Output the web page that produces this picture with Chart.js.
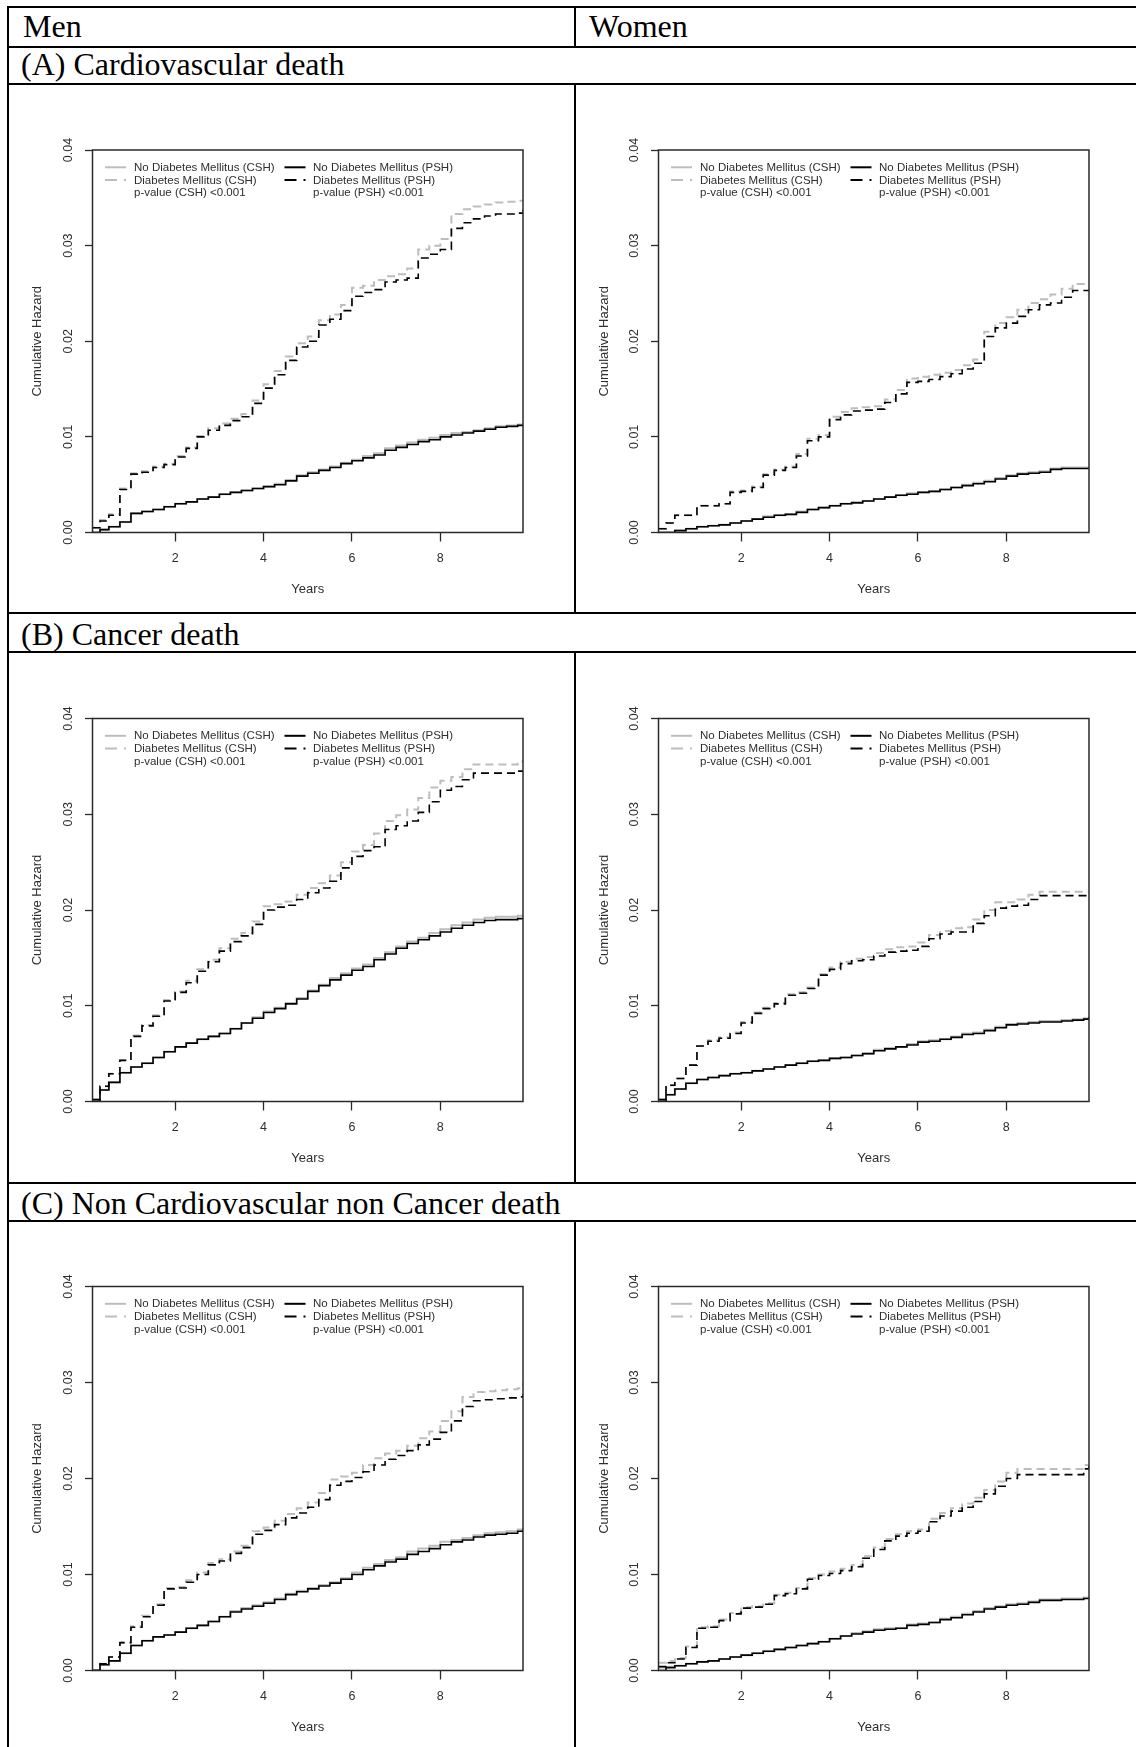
<!DOCTYPE html>
<html><head><meta charset="utf-8">
<script src="https://cdn.jsdelivr.net/npm/chart.js@4.4.1/dist/chart.umd.min.js"></script>
<style>
html,body{margin:0;padding:0;background:#fff;}
body{width:1136px;height:1747px;position:relative;overflow:hidden;font-family:'Liberation Serif','Times New Roman',serif;}
.h{position:absolute;height:2px;background:#000;}
.v{position:absolute;width:2px;background:#000;}
.t{position:absolute;font-size:32px;line-height:32px;height:32px;color:#000;white-space:nowrap;}
canvas.c{position:absolute;}
</style></head><body>
<div class="h" style="left:7px;top:6px;width:1129px"></div>
<div class="h" style="left:7px;top:46px;width:1129px"></div>
<div class="h" style="left:7px;top:83px;width:1129px"></div>
<div class="h" style="left:7px;top:612px;width:1129px"></div>
<div class="h" style="left:7px;top:651px;width:1129px"></div>
<div class="h" style="left:7px;top:1182px;width:1129px"></div>
<div class="h" style="left:7px;top:1220px;width:1129px"></div>
<div class="v" style="left:7px;top:6px;height:1741px"></div>
<div class="v" style="left:574px;top:6px;height:41px"></div>
<div class="v" style="left:574px;top:83px;height:530px"></div>
<div class="v" style="left:574px;top:651px;height:532px"></div>
<div class="v" style="left:574px;top:1220px;height:527px"></div>
<div class="t" id="tMen" style="left:23px;top:10px"></div>
<div class="t" id="tWomen" style="left:589px;top:10px"></div>
<div class="t" id="tA" style="left:21px;top:48px"></div>
<div class="t" id="tB" style="left:21px;top:618px"></div>
<div class="t" id="tC" style="left:21px;top:1187px"></div>
<canvas class="c" id="cMA" width="560" height="525" style="left:9px;top:84px"></canvas>
<canvas class="c" id="cWA" width="560" height="525" style="left:576px;top:84px"></canvas>
<canvas class="c" id="cMB" width="560" height="525" style="left:9px;top:653px"></canvas>
<canvas class="c" id="cWB" width="560" height="525" style="left:576px;top:653px"></canvas>
<canvas class="c" id="cMC" width="560" height="525" style="left:9px;top:1222px"></canvas>
<canvas class="c" id="cWC" width="560" height="525" style="left:576px;top:1222px"></canvas>
<script>
const colTitles = ['Men','Women'];
const rowTitles = ['(A) Cardiovascular death','(B) Cancer death','(C) Non Cardiovascular non Cancer death'];
const seriesNames = ['No Diabetes Mellitus (CSH)','Diabetes Mellitus (CSH)','No Diabetes Mellitus (PSH)','Diabetes Mellitus (PSH)'];
const pLabels = ['p-value (CSH) <0.001','p-value (PSH) <0.001'];
const xTitle = 'Years';
const yTitle = 'Cumulative Hazard';
const xTicks = [2,4,6,8];
const yTicks = [0,0.01,0.02,0.03,0.04];
const yTickLabels = ['0.00','0.01','0.02','0.03','0.04'];
const X_MIN = 0.13, X_MAX = 9.87;

const years = [0.13,0.3,0.5,0.75,1,1.25,1.5,1.75,2,2.25,2.5,2.75,3,3.25,3.5,3.75,4,4.25,4.5,4.75,5,5.25,5.5,5.75,6,6.25,6.5,6.75,7,7.25,7.5,7.75,8,8.25,8.5,8.75,9,9.25,9.5,9.75,9.87];

const menA_dmCSH = [0.0005,0.0013,0.0019,0.0046,0.0062,0.0064,0.0069,0.0072,0.0080,0.0089,0.0101,0.0109,0.0114,0.0119,0.0124,0.0138,0.0155,0.0169,0.0184,0.0198,0.0205,0.0222,0.0228,0.0238,0.0256,0.0258,0.0264,0.0268,0.0270,0.0276,0.0296,0.0300,0.0307,0.0333,0.0338,0.0341,0.0343,0.0345,0.0346,0.0347,0.0348];
const menA_dmPSH = [0.0005,0.0012,0.0018,0.0045,0.0061,0.0063,0.0068,0.0071,0.0079,0.0088,0.0100,0.0107,0.0112,0.0117,0.0121,0.0135,0.0151,0.0165,0.0180,0.0194,0.0200,0.0217,0.0223,0.0232,0.0247,0.0251,0.0254,0.0262,0.0264,0.0266,0.0287,0.0291,0.0296,0.0318,0.0324,0.0328,0.0331,0.0333,0.0333,0.0334,0.0337];
const menA_noCSH = [0.0000,0.0003,0.0006,0.0011,0.0020,0.0022,0.0024,0.0027,0.0030,0.0032,0.0035,0.0037,0.0040,0.0042,0.0044,0.0046,0.0048,0.0051,0.0055,0.0060,0.0063,0.0066,0.0069,0.0073,0.0076,0.0080,0.0083,0.0088,0.0091,0.0094,0.0097,0.0099,0.0102,0.0104,0.0105,0.0107,0.0109,0.0111,0.0112,0.0113,0.0113];
const menA_noPSH = [0.0000,0.0003,0.0006,0.0011,0.0020,0.0022,0.0024,0.0027,0.0030,0.0032,0.0035,0.0037,0.0040,0.0042,0.0044,0.0046,0.0048,0.0050,0.0054,0.0059,0.0062,0.0065,0.0068,0.0072,0.0075,0.0078,0.0081,0.0086,0.0089,0.0092,0.0095,0.0097,0.0100,0.0102,0.0104,0.0106,0.0108,0.0110,0.0111,0.0112,0.0112];

const womenA_dmCSH = [0.0004,0.0010,0.0018,0.0018,0.0028,0.0028,0.0030,0.0043,0.0044,0.0048,0.0061,0.0066,0.0069,0.0082,0.0098,0.0102,0.0121,0.0126,0.0130,0.0131,0.0132,0.0139,0.0149,0.0161,0.0163,0.0165,0.0167,0.0170,0.0175,0.0181,0.0210,0.0219,0.0225,0.0233,0.0240,0.0244,0.0249,0.0255,0.0260,0.0260,0.0261];
const womenA_dmPSH = [0.0004,0.0010,0.0018,0.0018,0.0028,0.0028,0.0030,0.0042,0.0043,0.0047,0.0060,0.0065,0.0068,0.0080,0.0096,0.0100,0.0118,0.0123,0.0127,0.0128,0.0129,0.0136,0.0145,0.0157,0.0158,0.0160,0.0163,0.0166,0.0171,0.0177,0.0205,0.0214,0.0219,0.0226,0.0233,0.0238,0.0240,0.0246,0.0253,0.0253,0.0254];
const womenA_noCSH = [0.0000,0.0000,0.0002,0.0004,0.0006,0.0007,0.0008,0.0010,0.0012,0.0014,0.0017,0.0018,0.0019,0.0022,0.0024,0.0026,0.0028,0.0030,0.0032,0.0033,0.0035,0.0037,0.0039,0.0041,0.0042,0.0043,0.0045,0.0047,0.0050,0.0052,0.0054,0.0057,0.0060,0.0062,0.0063,0.0064,0.0067,0.0068,0.0068,0.0068,0.0069];
const womenA_noPSH = [0.0000,0.0000,0.0002,0.0004,0.0006,0.0007,0.0008,0.0010,0.0012,0.0014,0.0016,0.0018,0.0019,0.0021,0.0024,0.0026,0.0028,0.0030,0.0031,0.0033,0.0035,0.0037,0.0039,0.0040,0.0042,0.0043,0.0045,0.0047,0.0049,0.0051,0.0053,0.0056,0.0059,0.0061,0.0062,0.0063,0.0066,0.0067,0.0067,0.0067,0.0068];

const menB_dmCSH = [0.0002,0.0016,0.0029,0.0043,0.0069,0.0080,0.0090,0.0106,0.0115,0.0126,0.0138,0.0148,0.0160,0.0170,0.0176,0.0188,0.0204,0.0206,0.0209,0.0216,0.0223,0.0228,0.0236,0.0250,0.0261,0.0268,0.0280,0.0293,0.0299,0.0305,0.0317,0.0328,0.0335,0.0339,0.0347,0.0352,0.0352,0.0352,0.0352,0.0355,0.0357];
const menB_dmPSH = [0.0002,0.0016,0.0029,0.0043,0.0068,0.0079,0.0089,0.0105,0.0114,0.0124,0.0136,0.0146,0.0157,0.0167,0.0173,0.0185,0.0200,0.0203,0.0205,0.0211,0.0218,0.0223,0.0230,0.0244,0.0256,0.0262,0.0266,0.0284,0.0288,0.0293,0.0302,0.0313,0.0325,0.0329,0.0336,0.0343,0.0343,0.0343,0.0343,0.0345,0.0346];
const menB_noCSH = [0.0000,0.0012,0.0020,0.0030,0.0036,0.0040,0.0046,0.0052,0.0057,0.0061,0.0065,0.0068,0.0071,0.0076,0.0082,0.0088,0.0094,0.0098,0.0103,0.0108,0.0116,0.0122,0.0129,0.0134,0.0139,0.0143,0.0150,0.0156,0.0162,0.0167,0.0171,0.0176,0.0180,0.0184,0.0187,0.0190,0.0192,0.0193,0.0193,0.0194,0.0195];
const menB_noPSH = [0.0000,0.0012,0.0020,0.0030,0.0036,0.0040,0.0046,0.0052,0.0057,0.0061,0.0065,0.0068,0.0071,0.0076,0.0082,0.0087,0.0093,0.0097,0.0102,0.0107,0.0115,0.0121,0.0127,0.0132,0.0137,0.0141,0.0148,0.0154,0.0160,0.0165,0.0169,0.0173,0.0177,0.0181,0.0184,0.0187,0.0189,0.0190,0.0190,0.0191,0.0192];

const womenB_dmCSH = [0.0002,0.0017,0.0024,0.0038,0.0058,0.0064,0.0067,0.0072,0.0083,0.0093,0.0098,0.0103,0.0112,0.0114,0.0119,0.0133,0.0140,0.0146,0.0149,0.0151,0.0155,0.0159,0.0161,0.0162,0.0166,0.0174,0.0178,0.0181,0.0182,0.0190,0.0200,0.0208,0.0208,0.0211,0.0216,0.0219,0.0219,0.0219,0.0219,0.0219,0.0219];
const womenB_dmPSH = [0.0002,0.0017,0.0024,0.0038,0.0058,0.0063,0.0066,0.0071,0.0082,0.0092,0.0097,0.0102,0.0111,0.0113,0.0118,0.0132,0.0138,0.0144,0.0147,0.0148,0.0152,0.0156,0.0157,0.0158,0.0162,0.0170,0.0175,0.0177,0.0177,0.0186,0.0194,0.0202,0.0204,0.0205,0.0211,0.0215,0.0215,0.0215,0.0215,0.0215,0.0215];
const womenB_noCSH = [0.0000,0.0007,0.0013,0.0019,0.0023,0.0025,0.0027,0.0029,0.0030,0.0032,0.0034,0.0036,0.0038,0.0040,0.0042,0.0043,0.0045,0.0046,0.0048,0.0050,0.0054,0.0056,0.0057,0.0060,0.0063,0.0064,0.0065,0.0068,0.0071,0.0072,0.0075,0.0078,0.0081,0.0082,0.0083,0.0084,0.0084,0.0085,0.0086,0.0087,0.0089];
const womenB_noPSH = [0.0000,0.0007,0.0013,0.0019,0.0023,0.0025,0.0027,0.0029,0.0030,0.0032,0.0034,0.0036,0.0038,0.0040,0.0042,0.0043,0.0045,0.0046,0.0048,0.0050,0.0053,0.0055,0.0057,0.0059,0.0062,0.0063,0.0065,0.0067,0.0070,0.0071,0.0074,0.0077,0.0080,0.0081,0.0082,0.0083,0.0083,0.0084,0.0085,0.0086,0.0088];

const menC_dmCSH = [0.0000,0.0007,0.0014,0.0029,0.0046,0.0057,0.0069,0.0086,0.0087,0.0094,0.0102,0.0112,0.0116,0.0124,0.0130,0.0145,0.0149,0.0156,0.0163,0.0169,0.0175,0.0185,0.0199,0.0202,0.0206,0.0214,0.0221,0.0226,0.0229,0.0234,0.0242,0.0249,0.0260,0.0270,0.0285,0.0290,0.0291,0.0292,0.0293,0.0294,0.0300];
const menC_dmPSH = [0.0000,0.0007,0.0014,0.0029,0.0045,0.0056,0.0068,0.0085,0.0086,0.0092,0.0100,0.0110,0.0114,0.0122,0.0128,0.0142,0.0146,0.0152,0.0159,0.0164,0.0170,0.0178,0.0193,0.0197,0.0201,0.0207,0.0214,0.0220,0.0224,0.0229,0.0235,0.0241,0.0248,0.0260,0.0275,0.0281,0.0282,0.0283,0.0284,0.0285,0.0288];
const menC_noCSH = [0.0000,0.0006,0.0010,0.0018,0.0026,0.0031,0.0035,0.0037,0.0040,0.0044,0.0047,0.0051,0.0056,0.0062,0.0065,0.0068,0.0071,0.0075,0.0080,0.0083,0.0086,0.0089,0.0092,0.0096,0.0102,0.0107,0.0111,0.0115,0.0118,0.0124,0.0127,0.0130,0.0134,0.0136,0.0138,0.0141,0.0143,0.0144,0.0145,0.0147,0.0149];
const menC_noPSH = [0.0000,0.0006,0.0010,0.0018,0.0026,0.0031,0.0035,0.0037,0.0040,0.0044,0.0047,0.0051,0.0056,0.0061,0.0064,0.0067,0.0070,0.0074,0.0079,0.0082,0.0085,0.0088,0.0091,0.0095,0.0100,0.0105,0.0109,0.0113,0.0116,0.0121,0.0124,0.0127,0.0131,0.0134,0.0136,0.0139,0.0141,0.0142,0.0143,0.0145,0.0147];

const womenC_dmCSH = [0.0008,0.0010,0.0013,0.0025,0.0045,0.0046,0.0053,0.0060,0.0066,0.0067,0.0070,0.0079,0.0081,0.0086,0.0096,0.0100,0.0103,0.0106,0.0110,0.0119,0.0128,0.0137,0.0142,0.0145,0.0147,0.0158,0.0164,0.0169,0.0174,0.0180,0.0188,0.0197,0.0206,0.0210,0.0210,0.0210,0.0210,0.0210,0.0210,0.0214,0.0216];
const womenC_dmPSH = [0.0004,0.0008,0.0012,0.0024,0.0044,0.0045,0.0052,0.0059,0.0065,0.0066,0.0069,0.0078,0.0080,0.0085,0.0095,0.0099,0.0101,0.0104,0.0108,0.0117,0.0126,0.0135,0.0140,0.0143,0.0145,0.0155,0.0161,0.0166,0.0170,0.0176,0.0184,0.0192,0.0200,0.0204,0.0204,0.0204,0.0204,0.0204,0.0204,0.0210,0.0213];
const womenC_noCSH = [0.0003,0.0004,0.0005,0.0007,0.0009,0.0010,0.0012,0.0014,0.0016,0.0018,0.0020,0.0022,0.0024,0.0026,0.0028,0.0030,0.0033,0.0036,0.0039,0.0041,0.0043,0.0044,0.0044,0.0048,0.0049,0.0050,0.0054,0.0056,0.0059,0.0062,0.0065,0.0067,0.0069,0.0070,0.0072,0.0074,0.0074,0.0075,0.0075,0.0076,0.0077];
const womenC_noPSH = [0.0000,0.0003,0.0005,0.0007,0.0009,0.0010,0.0012,0.0014,0.0016,0.0018,0.0020,0.0022,0.0024,0.0026,0.0028,0.0030,0.0033,0.0036,0.0038,0.0040,0.0042,0.0043,0.0044,0.0047,0.0048,0.0050,0.0053,0.0055,0.0058,0.0061,0.0064,0.0066,0.0068,0.0069,0.0071,0.0073,0.0073,0.0074,0.0074,0.0075,0.0076];

document.getElementById('tMen').textContent = colTitles[0];
document.getElementById('tWomen').textContent = colTitles[1];
document.getElementById('tA').textContent = rowTitles[0];
document.getElementById('tB').textContent = rowTitles[1];
document.getElementById('tC').textContent = rowTitles[2];

const GRAY = '#bdbdbd', BLACK = '#000000', TXT = '#2e2e2e', AX = '#2a2a2a';
const DASH = [8, 5];
Chart.defaults.font.family = "'Liberation Sans', Arial, sans-serif";
Chart.defaults.color = TXT;

const framePlugin = {
  id: 'rframe',
  afterDraw(chart) {
    const {ctx, chartArea: a} = chart;
    ctx.save();
    ctx.strokeStyle = AX; ctx.lineWidth = 1.5; ctx.setLineDash([]);
    ctx.strokeRect(a.left, a.top, a.right - a.left, a.bottom - a.top);
    ctx.restore();
  }
};

const legendPlugin = {
  id: 'rlegend',
  afterDraw(chart) {
    const {ctx, chartArea: a} = chart;
    const rows = [17.3, 30, 42.7];
    const cols = [
      {l0: 12.5, l1: 33.5, tx: 41.5, items: [[seriesNames[0], GRAY, []], [seriesNames[1], GRAY, [12, 7]], [pLabels[0], null, null]]},
      {l0: 192, l1: 213, tx: 220.5, items: [[seriesNames[2], BLACK, []], [seriesNames[3], BLACK, [12, 7]], [pLabels[1], null, null]]}
    ];
    ctx.save();
    ctx.font = "11.5px 'Liberation Sans', Arial, sans-serif";
    ctx.textBaseline = 'middle';
    ctx.textAlign = 'left';
    cols.forEach(c => {
      c.items.forEach((it, r) => {
        const y = a.top + rows[r];
        if (it[1]) {
          ctx.strokeStyle = it[1]; ctx.lineWidth = 2; ctx.setLineDash(it[2]);
          ctx.beginPath(); ctx.moveTo(a.left + c.l0, y); ctx.lineTo(a.left + c.l1, y); ctx.stroke();
        }
        ctx.fillStyle = TXT;
        ctx.fillText(it[0], a.left + c.tx, y + 0.5);
      });
    });
    ctx.restore();
  }
};

function makeChart(id, s, topPad, yWidth, rightPad) {
  const pts = v => years.map((t, i) => ({x: t, y: v[i]}));
  const ds = (label, v, color, dash, w) => ({label, data: pts(v), borderColor: color, borderWidth: w, borderDash: dash, stepped: true, pointRadius: 0, fill: false, tension: 0});
  return new Chart(document.getElementById(id), {
    type: 'line',
    data: {datasets: [
      ds(seriesNames[2], s.noPSH, BLACK, [], 1.6),
      ds(seriesNames[3], s.dmPSH, BLACK, DASH, 1.6),
      ds(seriesNames[0], s.noCSH, GRAY, [], 2),
      ds(seriesNames[1], s.dmCSH, GRAY, DASH, 2)
    ]},
    options: {
      responsive: false, animation: false, devicePixelRatio: 1,
      layout: {padding: {top: topPad, right: rightPad, bottom: 0, left: 0}},
      plugins: {legend: {display: false}, tooltip: {enabled: false}},
      scales: {
        x: {
          type: 'linear', min: X_MIN, max: X_MAX,
          afterBuildTicks: sc => { sc.ticks = xTicks.map(v => ({value: v})); },
          afterFit: sc => { sc.height = 76.5; },
          ticks: {padding: 10, minRotation: 0, maxRotation: 0, color: TXT, font: {size: 12.5}, callback: v => String(v)},
          grid: {drawOnChartArea: false, drawTicks: true, tickLength: 9, tickColor: AX, tickWidth: 1.3},
          border: {display: false},
          title: {display: true, text: xTitle, color: TXT, font: {size: 13}, padding: {top: 0, bottom: 12}}
        },
        y: {
          type: 'linear', min: 0, max: 0.04,
          afterBuildTicks: sc => { sc.ticks = yTicks.map(v => ({value: v})); },
          afterFit: sc => { sc.width = yWidth; },
          ticks: {padding: 4, minRotation: 90, maxRotation: 90, crossAlign: 'center', color: TXT, font: {size: 12.5}, callback: (v, i) => yTickLabels[i]},
          grid: {drawOnChartArea: false, drawTicks: true, tickLength: 7.5, tickColor: AX, tickWidth: 1.3},
          border: {display: false},
          title: {display: true, text: yTitle, color: TXT, font: {size: 13}, padding: {top: 21, bottom: 0}}
        }
      }
    },
    plugins: [framePlugin, legendPlugin]
  });
}

makeChart('cMA', {dmCSH: menA_dmCSH, dmPSH: menA_dmPSH, noCSH: menA_noCSH, noPSH: menA_noPSH}, 66, 83.5, 46);
makeChart('cWA', {dmCSH: womenA_dmCSH, dmPSH: womenA_dmPSH, noCSH: womenA_noCSH, noPSH: womenA_noPSH}, 66, 82.5, 47);
makeChart('cMB', {dmCSH: menB_dmCSH, dmPSH: menB_dmPSH, noCSH: menB_noCSH, noPSH: menB_noPSH}, 65.5, 83.5, 46);
makeChart('cWB', {dmCSH: womenB_dmCSH, dmPSH: womenB_dmPSH, noCSH: womenB_noCSH, noPSH: womenB_noPSH}, 65.5, 82.5, 47);
makeChart('cMC', {dmCSH: menC_dmCSH, dmPSH: menC_dmPSH, noCSH: menC_noCSH, noPSH: menC_noPSH}, 64.5, 83.5, 46);
makeChart('cWC', {dmCSH: womenC_dmCSH, dmPSH: womenC_dmPSH, noCSH: womenC_noCSH, noPSH: womenC_noPSH}, 64.5, 82.5, 47);
</script>
</body></html>
